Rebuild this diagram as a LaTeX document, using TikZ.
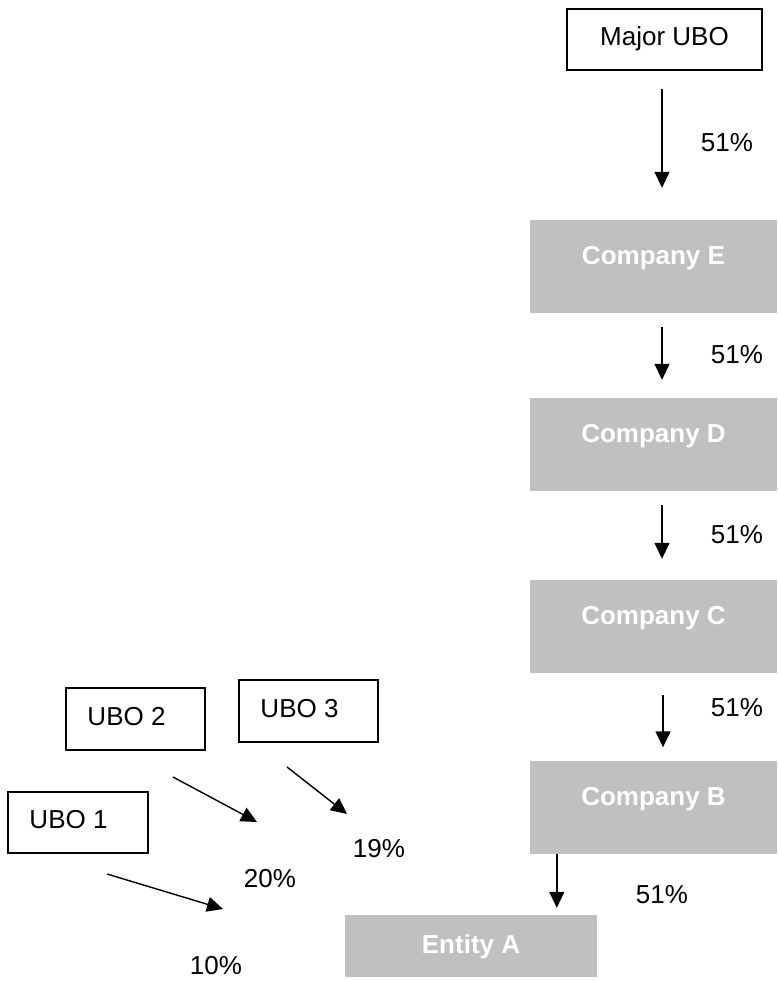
\documentclass[tikz,border=0pt]{standalone}
\usepackage{fontspec}
\setmainfont{Liberation Sans}
\usetikzlibrary{arrows.meta}
\definecolor{boxgray}{HTML}{C0C0C0}
\begin{document}
\begin{tikzpicture}[x=1pt,y=-1pt,
  whitebox/.style={draw=black, line width=1.5pt, fill=white, inner sep=0pt,
    text height=19pt, text depth=7pt, font=\fontsize{26}{30}\selectfont},
  graybox/.style={fill=boxgray, inner sep=0pt, text=white,
    font=\fontsize{26}{30}\selectfont\bfseries, text height=19pt, text depth=23pt},
  arr/.style={line width=1.4pt, -{Triangle[length=16pt,width=15pt]}},
  pct/.style={font=\fontsize{26}{30}\selectfont, inner sep=0pt}]
\useasboundingbox (0,0) rectangle (777,981);

% boxes
\node[whitebox, minimum width=195pt, minimum height=61pt] (major) at (664.5,39.5) {Major UBO};
\node[graybox, minimum width=247pt, minimum height=93pt] (E) at (653.5,266.5) {Company E};
\node[graybox, minimum width=247pt, minimum height=93pt] (D) at (653.5,444.5) {Company D};
\node[graybox, minimum width=247pt, minimum height=93pt] (C) at (653.5,626.5) {Company C};
\node[graybox, minimum width=247pt, minimum height=93pt] (B) at (653.5,807) {Company B};
\node[graybox, minimum width=252pt, minimum height=62pt, text depth=5pt] (A) at (471,946) {Entity A};

\node[whitebox, minimum width=139pt, minimum height=62pt] (ubo2) at (135.5,719) {UBO 2\hspace*{18pt}};
\node[whitebox, minimum width=139pt, minimum height=62pt] (ubo3) at (308.5,711) {UBO 3\hspace*{18pt}};
\node[whitebox, minimum width=140pt, minimum height=61pt] (ubo1) at (78,822.5) {UBO 1\hspace*{19pt}};

% vertical chain
\draw[arr, shorten <=18pt, shorten >=32pt] ([xshift=-2.5pt]major.south) -- ([xshift=-2.5pt]major.south |- E.north);
\draw[arr, shorten <=14pt, shorten >=18pt] ([xshift=8.5pt]E.south) -- ([xshift=8.5pt]E.south |- D.north);
\draw[arr, shorten <=14pt, shorten >=21pt] ([xshift=8.5pt]D.south) -- ([xshift=8.5pt]D.south |- C.north);
\draw[arr, shorten <=22pt, shorten >=13pt] ([xshift=9.5pt]C.south) -- ([xshift=9.5pt]C.south |- B.north);
\draw[arr, shorten >=7pt] ([xshift=27pt]B.south west) -- ([xshift=27pt]B.south west |- A.north);

\node[pct] (p1) at (727,143) {51\%};
\node[pct] (p2) at (737,355) {51\%};
\node[pct] (p3) at (737,535) {51\%};
\node[pct] (p4) at (737,708) {51\%};
\node[pct] (p5) at (662,895) {51\%};

% minority owners
\coordinate (s2) at (173,777);
\coordinate (e2) at (257,822);
\coordinate (s3) at (287,767);
\coordinate (e3) at (347,814);
\coordinate (s1) at (107,874);
\coordinate (e1) at (223,909);
\draw[arr] (s2) -- (e2);
\draw[arr] (s3) -- (e3);
\draw[arr] (s1) -- (e1);

\node[pct] (q19) at (379,849) {19\%};
\node[pct] (q20) at (270,879) {20\%};
\node[pct] (q10) at (216,966) {10\%};
\end{tikzpicture}
\end{document}
